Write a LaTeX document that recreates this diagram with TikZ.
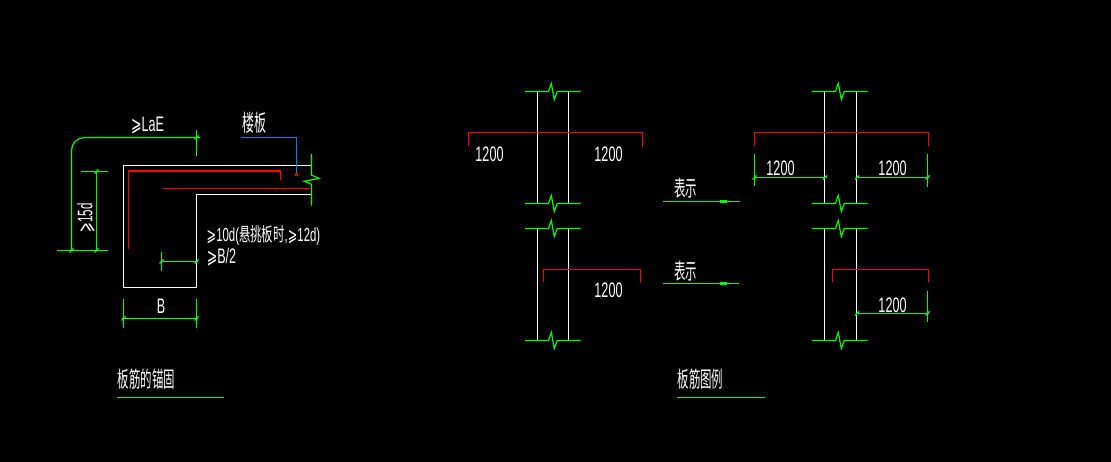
\documentclass[tikz,border=0pt]{standalone}
\usepackage{fontspec}
\setmainfont{Liberation Sans}
\newfontfamily\cadcn{Noto Sans CJK SC}
\newfontfamily\cadsym{DejaVu Sans}
\newcommand{\gesym}{{\cadsym ⩾}}
\tikzset{
  wline/.style={white, line width=1.2pt},
  gline/.style={green, line width=1.2pt},
  rline/.style={red, line width=1.5pt},
  rthin/.style={red, line width=1.1pt},
  bline/.style={blue!50!cyan, line width=1.2pt},
  cadbase/.style={white, inner sep=0pt, transform shape, font=\fontsize{21}{21}\selectfont},
  cadtxt/.style={cadbase, xscale=0.6},
  cadcjk/.style={white, inner sep=0pt, transform shape, xscale=0.52, font=\fontsize{22}{22}\selectfont\cadcn},
}
\begin{document}
\begin{tikzpicture}[x=1pt, y=-1pt]

      \fill[black] (0, 0) rectangle (1111, 462);
      \useasboundingbox (0, 0) rectangle (1111, 462);

      % anchorage section
      \draw[wline] (311.5, 165.5) -- (123.5, 165.5) -- (123.5, 287.5) -- (196.5, 287.5) -- (196.5, 194.5) -- (311.5, 194.5);
      \draw[gline] (311.5, 154) -- (311.5, 175) -- (319, 178.5) -- (304, 181.3) -- (311.5, 184.3) -- (311.5, 205.7);

      \draw[rline] (128.5, 249.5) -- (128.5, 171) -- (280.5, 171) -- (280.5, 180.5);
      \draw[rline] (163, 188.5) -- (311, 188.5);

      \draw[bline] (241, 137.5) -- (296.5, 137.5) -- (296.5, 173);
      \draw[red, line width=0.7pt] (295.5, 173.5) rectangle (297.5, 175.5);

      \draw[gline, rounded corners=13pt] (71.5, 250.5) -- (71.5, 137.5) -- (200, 137.5);
      \draw[gline] (196.5, 130) -- (196.5, 156);
      \draw[gline] (57, 250.5) -- (108, 250.5);
      \draw[gline] (81, 171.5) -- (108, 171.5);
      \draw[gline] (96.5, 171.5) -- (96.5, 250.5);

      \draw[gline] (122, 318.5) -- (197.5, 318.5);
      \draw[gline] (123.5, 299) -- (123.5, 327.5);
      \draw[gline] (196.5, 299) -- (196.5, 327.5);

      \draw[gline] (161.5, 261.5) -- (197.5, 261.5);
      \draw[gline] (161.5, 252) -- (161.5, 271);

      \node[cadtxt] (lae) at (147.5, 126) {\gesym LaE};
      \node[cadcjk, font=\fontsize{23}{23}\selectfont\cadcn] (slab) at (254, 122.5) {楼板};
      \node[cadbase, rotate=90, xscale=0.55] (hook) at (86, 218) {\gesym 15d};
      \node[cadbase, xscale=0.6, font=\fontsize{19}{19}\selectfont] (seat) at (263.5, 235) {\gesym 10d({\cadcn 悬挑板时},\gesym 12d)};
      \node[cadtxt] (half) at (221.5, 257.5) {\gesym B/2};
      \node[cadtxt] (width) at (161, 306.5) {B};

      \node[cadcjk] (titlea) at (146.5, 379.5) {板筋的锚固};
      \draw[gline] (117, 397.5) -- (224, 397.5);
      \node[cadcjk] (titleb) at (700.5, 379.5) {板筋图例};
      \draw[gline] (677, 397.5) -- (765, 397.5);

      % wall pieces
      \foreach \x/\y/\h in {537.5/91.5/203.5, 537.5/228.5/340.5, 824.5/91.5/203.5, 824.5/228.5/340.5} {
          \draw[wline] (\x, \y) -- (\x, \h);
          \draw[wline] ({\x + (\x > 600 ? 32 : 31)}, \y) -- ({\x + (\x > 600 ? 32 : 31)}, \h);
        }
      \foreach \x/\y in {537.5/91.5, 537.5/203.5, 537.5/228.5, 537.5/340.5, 824.5/91.5, 824.5/203.5, 824.5/228.5, 824.5/340.5} {
          \draw[gline] (\x-12.5, \y) -- (\x+11, \y) -- (\x+13.8, \y-8) -- (\x+16.8, \y+8) -- (\x+19.8, \y) -- (\x+43, \y);
        }

      % bars
      \draw[rline] (468.5, 145.7) -- (468.5, 132.5) -- (642.5, 132.5) -- (642.5, 146.7);
      \draw[rthin] (543.5, 281.7) -- (543.5, 269.5) -- (640.5, 269.5) -- (640.5, 282.7);
      \draw[rline] (754.5, 145.7) -- (754.5, 132.5) -- (928.5, 132.5) -- (928.5, 145.7);
      \draw[rline] (832.5, 282) -- (832.5, 269.5) -- (928.5, 269.5) -- (928.5, 282);

      % lengths on the right
      \draw[gline] (753.5, 177.5) -- (826.7, 177.5);
      \draw[gline] (855.7, 177.5) -- (928.5, 177.5);
      \draw[gline] (855.7, 313.5) -- (928.5, 313.5);
      \draw[gline] (754.5, 154) -- (754.5, 185.7);
      \draw[gline] (927.5, 154) -- (927.5, 186.7);
      \draw[gline] (927.5, 291) -- (927.5, 322.3);

      % ticks
      \foreach \x/\y in {196.5/137.5, 71.5/250.5, 96.5/250.5, 96.5/171.5, 123.5/318.5, 196.5/318.5, 161.5/261.5, 196.5/261.5, 754.5/177.5, 825/177.5, 857/177.5, 927.5/177.5, 857/313.5, 927.5/313.5} {
          \draw[gline] (\x-2, \y+2) -- (\x+2, \y-2);
        }

      \node[cadtxt] (lena) at (489.5, 154.5) {1200};
      \node[cadtxt] (lenb) at (608.5, 154.5) {1200};
      \node[cadtxt] (lenc) at (608.5, 290.5) {1200};
      \node[cadtxt] (lend) at (780.5, 168.5) {1200};
      \node[cadtxt] (lene) at (892.5, 168.5) {1200};
      \node[cadtxt] (lenf) at (892.5, 305) {1200};

      % legend marks
      \node[cadcjk] (marka) at (685.5, 188.5) {表示};
      \draw[gline] (663, 201.5) -- (740, 201.5);
      \draw[gline, line width=3pt] (719.5, 201.5) -- (727, 201.5);
      \node[cadcjk] (markb) at (685.5, 271) {表示};
      \draw[gline] (663, 283.5) -- (739, 283.5);
      \draw[gline, line width=3pt] (719.5, 283.5) -- (727, 283.5);

    \end{tikzpicture}
\end{document}
